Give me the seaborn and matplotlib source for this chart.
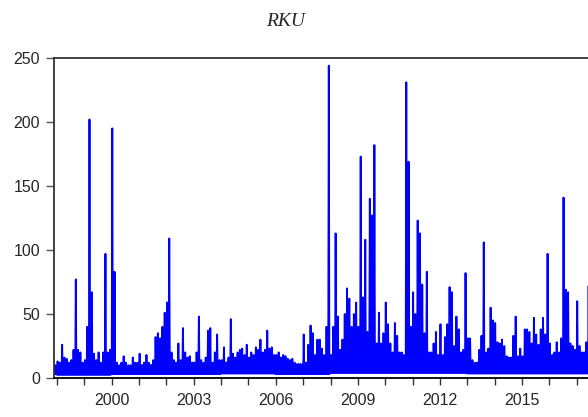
import pandas as pd
import numpy as np
import matplotlib
matplotlib.use("Agg")
import matplotlib.pyplot as plt
import seaborn as sns

start = 1997 + 11 / 12
peaks_1997 = [10]
peaks_1998 = [13, 12, 26, 16, 15, 12, 14, 22, 77, 22, 20, 12]
peaks_1999 = [14, 40, 202, 67, 19, 14, 20, 12, 20, 97, 20, 22]
peaks_2000 = [195, 83, 12, 10, 12, 17, 12, 10, 10, 16, 12, 12]
peaks_2001 = [19, 10, 12, 18, 12, 10, 14, 32, 35, 31, 40, 51]
peaks_2002 = [59, 109, 20, 14, 12, 27, 14, 39, 20, 16, 17, 12]
peaks_2003 = [12, 20, 48, 14, 12, 16, 37, 39, 12, 20, 34, 14]
peaks_2004 = [14, 24, 12, 16, 46, 19, 16, 20, 22, 23, 18, 26]
peaks_2005 = [16, 20, 18, 24, 22, 30, 20, 22, 37, 23, 24, 18]
peaks_2006 = [18, 20, 16, 18, 17, 15, 14, 15, 12, 9, 10, 10]
peaks_2007 = [34, 12, 26, 41, 35, 18, 30, 30, 23, 18, 40, 244]
peaks_2008 = [18, 40, 113, 48, 22, 30, 50, 70, 62, 40, 50, 59]
peaks_2009 = [40, 173, 63, 108, 36, 140, 127, 182, 27, 51, 27, 35]
peaks_2010 = [59, 42, 27, 20, 43, 33, 20, 20, 18, 231, 169, 40]
peaks_2011 = [67, 50, 123, 113, 73, 35, 83, 20, 20, 27, 36, 18]
peaks_2012 = [42, 18, 32, 42, 71, 67, 25, 48, 38, 20, 22, 82]
peaks_2013 = [31, 31, 14, 11, 12, 22, 33, 106, 20, 23, 55, 45]
peaks_2014 = [43, 28, 27, 30, 25, 17, 16, 16, 33, 48, 17, 23]
peaks_2015 = [17, 38, 38, 36, 27, 47, 34, 26, 38, 47, 34, 97]
peaks_2016 = [27, 18, 20, 28, 20, 31, 141, 69, 67, 27, 25, 22]
peaks_2017 = [60, 25, 20, 20, 28, 72]

years = list(range(1997, 2018))
# top of the dense band and the floor, per year
band_top = [9, 10, 10, 9, 10, 12, 11, 12, 12, 11, 10, 14, 16, 14, 15, 14, 12, 13, 14, 13, 13]
floor = [3, 2.5, 2.5, 3, 3, 3, 3, 3.5, 3.5, 3, 3, 4, 4, 4, 4, 4, 3.5, 3.5, 3.5, 3.5, 3.5]

peaks = (peaks_1997 + peaks_1998 + peaks_1999 + peaks_2000 + peaks_2001 + peaks_2002
         + peaks_2003 + peaks_2004 + peaks_2005 + peaks_2006 + peaks_2007 + peaks_2008
         + peaks_2009 + peaks_2010 + peaks_2011 + peaks_2012 + peaks_2013 + peaks_2014
         + peaks_2015 + peaks_2016 + peaks_2017)

xs, ys = [], []
for i, p in enumerate(peaks):
    t = start + i / 12
    k = years.index(int(t + 1e-9))
    for j, v in enumerate([floor[k], p, floor[k], band_top[k]]):
        xs.append(t + j / 48)
        ys.append(v)
df = pd.DataFrame({"year": xs, "RKU": ys})

sns.set_style("white")
plt.rcParams["font.family"] = ["Liberation Sans", "DejaVu Sans"]

fig = plt.figure(figsize=(5.88, 4.17), dpi=100)
ax = fig.add_axes([54 / 588, 1 - 378 / 417, 1 - 54 / 588, 320 / 417])
sns.lineplot(data=df, x="year", y="RKU", color="#0000ff", linewidth=1.35,
             estimator=None, sort=False, ax=ax)

ax.set_xlim(1997.89, 2017.415)
ax.set_ylim(0, 250)
ax.set_yticks([0, 50, 100, 150, 200, 250])
tick_years = list(range(1998, 2018))
ax.set_xticks(tick_years)
ax.set_xticklabels([str(y) if (y - 2000) % 3 == 0 else "" for y in tick_years])
ax.set_xlabel("")
ax.set_ylabel("")
ax.tick_params(axis="y", direction="out", length=6, width=1, color="#555555",
               labelsize=11.5, pad=4, left=True)
ax.tick_params(axis="x", direction="out", length=5, width=1, color="#333333",
               labelsize=11.5, pad=6, bottom=True)
ax.spines["right"].set_visible(False)
for s in ["left", "top"]:
    ax.spines[s].set_color("#333333")
    ax.spines[s].set_linewidth(1.3)
ax.spines["bottom"].set_color("black")
ax.spines["bottom"].set_linewidth(1.3)

fig.text(286 / 588, 1 - 21 / 417, "RKU", ha="center", va="center", fontsize=14,
         style="italic", family="Liberation Serif")

plt.savefig("out.png", dpi=100)
